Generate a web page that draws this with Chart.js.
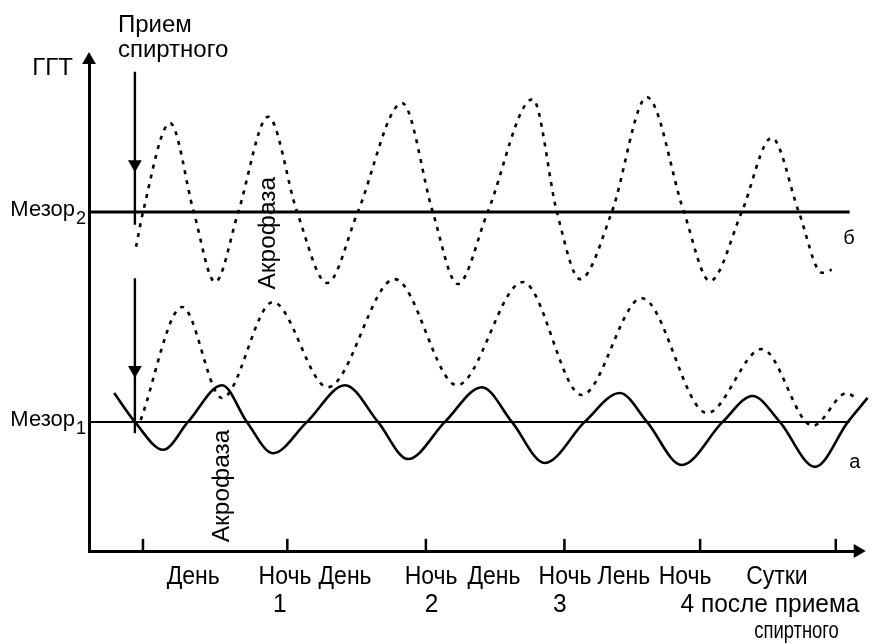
<!DOCTYPE html>
<html>
<head>
<meta charset="utf-8">
<script src="https://cdn.jsdelivr.net/npm/chart.js@4.4.1/dist/chart.umd.min.js"></script>
<style>
  html, body { margin: 0; padding: 0; background: #fff; }
</style>
</head>
<body>
<canvas id="chart" width="871" height="644"></canvas>
<script>
// время в часах (0 = первая метка на оси), уровень ГГТ в усл. ед.
const curveA_t = [-5.0, -1.4, 3.5, 7.8, 13.7, 18.0, 22.5, 28.4, 35.0, 40.7, 45.9, 52.3, 58.7, 63.9, 69.6, 76.5, 82.6, 87.3, 93.3, 100.4, 105.6, 110.3, 116.4, 122.1, 125.5];
const curveA_v = [32.3, 26.4, 20.7, 26.4, 33.9, 26.4, 20.0, 26.4, 33.9, 26.4, 18.8, 26.4, 33.5, 26.4, 18.0, 26.4, 32.3, 26.4, 17.6, 26.4, 31.7, 26.4, 17.2, 26.4, 31.3];

const curveB_t = [-1.2, 0, 4.7, 8.8, 12.5, 16.5, 21.7, 26.7, 31.9, 37.2, 44.9, 50.2, 54.5, 59.7, 67.5, 71.7, 75.7, 81.2, 87.3, 93.7, 98.2, 103.7, 108.9, 113.6, 117.6, 119.3];
const curveB_v = [62.2, 69.3, 87.5, 69.3, 55.0, 69.3, 88.8, 69.3, 54.8, 69.3, 91.6, 69.3, 54.6, 69.3, 92.4, 69.3, 55.6, 69.3, 92.8, 69.3, 55.2, 69.3, 84.5, 69.3, 56.9, 57.5];

// средняя пунктирная кривая
const curveC_t = [-0.4, 6.8, 13.7, 22.5, 32.0, 43.6, 54.4, 65.8, 76.0, 86.4, 97.7, 107.2, 116.0, 121.9, 123.8];
const curveC_v = [26.8, 49.9, 31.3, 50.9, 33.5, 55.6, 33.9, 55.0, 31.9, 51.7, 28.2, 41.3, 25.6, 32.3, 30.9];

const mesor1 = 26.4;
const mesor2 = 69.3;
const mesorEnd = 122.4;

const intakeHour = -1.4;
const arrow1 = [98.0, 79.1, 66.7];  // верх, наконечник, низ
const arrow2 = [55.8, 37.0, 24.1];

const xTicks = [0, 25, 49, 73, 96.5, 120];
const dayLabels = ['День', 'Ночь', 'День', 'Ночь', 'День', 'Ночь', 'Лень', 'Ночь', 'Сутки'];
const dayLabelPos = [8.7, 24.6, 35.0, 49.9, 60.8, 73.1, 83.3, 93.9, 109.8];
const dayNumbers = ['1', '2', '3', '4 после приема'];
const dayNumberPos = [23.7, 50.0, 72.2, 108.6];

const X_MIN = -9.35, X_MAX = 123.5;
const Y_MIN = 0, Y_MAX = 100;

const pts = (t, v) => t.map((x, i) => ({ x: x, y: v[i] }));
const FONT = '"Liberation Sans", Arial, sans-serif';

const textPlugin = {
  id: 'texts',
  afterDatasetsDraw(chart) {
    const { ctx, scales: { x, y }, chartArea } = chart;
    ctx.save();
    ctx.fillStyle = '#000';
    ctx.textBaseline = 'middle';

    // подпись оси Y
    ctx.font = '24px ' + FONT;
    ctx.textAlign = 'right';
    ctx.fillText('ГГТ', chartArea.left - 16, 68);

    // мезоры
    const mesorLabel = (val, sub) => {
      const py = y.getPixelForValue(val);
      ctx.font = '22px ' + FONT;
      ctx.textAlign = 'right';
      ctx.fillText('Мезор', chartArea.left - 14, py - 2);
      ctx.font = '18px ' + FONT;
      ctx.textAlign = 'left';
      ctx.fillText(sub, chartArea.left - 13, py + 7);
    };
    mesorLabel(mesor2, '2');
    mesorLabel(mesor1, '1');

    // прием спиртного
    const ax = x.getPixelForValue(intakeHour);
    const ay = y.getPixelForValue(arrow1[0]);
    ctx.font = '24px ' + FONT;
    ctx.textAlign = 'left';
    ctx.textBaseline = 'alphabetic';
    ctx.fillText('Прием', ax - 17, ay - 40);
    ctx.fillText('спиртного', ax - 17, ay - 15);

    // акрофазы (повернутый текст)
    const vertical = (txt, hx, vy, size) => {
      ctx.save();
      ctx.translate(x.getPixelForValue(hx), y.getPixelForValue(vy));
      ctx.rotate(-Math.PI / 2);
      ctx.font = size + 'px ' + FONT;
      ctx.textAlign = 'center';
      ctx.textBaseline = 'middle';
      ctx.fillText(txt, 0, 0);
      ctx.restore();
    };
    vertical('Акрофаза', 21.7, 65.0, 24.5);
    vertical('Акрофаза', 13.8, 13.3, 24.5);

    ctx.font = '20px ' + FONT;
    ctx.textAlign = 'center';
    ctx.textBaseline = 'middle';
    ctx.fillText('б', x.getPixelForValue(122.3), y.getPixelForValue(64.0));
    ctx.fillText('а', x.getPixelForValue(123.3), y.getPixelForValue(18.0));

    // подписи под осью X (узкое начертание)
    const narrow = (txt, px, py, size, sx) => {
      ctx.save();
      ctx.translate(px, py);
      ctx.scale(sx, 1);
      ctx.font = size + 'px ' + FONT;
      ctx.fillText(txt, 0, 0);
      ctx.restore();
    };
    const base = chartArea.bottom;
    dayLabels.forEach((lab, i) => narrow(lab, x.getPixelForValue(dayLabelPos[i]), base + 26, 25, 0.92));
    dayNumbers.forEach((lab, i) => narrow(lab, x.getPixelForValue(dayNumberPos[i]), base + 54, 25, 0.98));
    narrow('спиртного', x.getPixelForValue(113.2), base + 81, 23, 0.8);

    ctx.restore();
  }
};

const ctx = document.getElementById('chart').getContext('2d');
new Chart(ctx, {
  type: 'line',
  data: {
    datasets: [
      {
        label: 'а',
        data: pts(curveA_t, curveA_v),
        borderColor: '#000',
        borderWidth: 2.6,
        pointRadius: 0,
        cubicInterpolationMode: 'monotone',
        clip: false
      },
      {
        label: 'б',
        data: pts(curveB_t, curveB_v),
        borderColor: '#000',
        borderWidth: 2.6,
        borderDash: [4, 6],
        pointRadius: 0,
        cubicInterpolationMode: 'monotone',
        clip: false
      },
      {
        label: 'в',
        data: pts(curveC_t, curveC_v),
        borderColor: '#000',
        borderWidth: 2.6,
        borderDash: [4, 6],
        pointRadius: 0,
        cubicInterpolationMode: 'monotone',
        clip: false
      },
      {
        label: 'Мезор2',
        data: [{ x: X_MIN, y: mesor2 }, { x: mesorEnd, y: mesor2 }],
        borderColor: '#000',
        borderWidth: 3,
        pointRadius: 0,
        clip: false
      },
      {
        label: 'Мезор1',
        data: [{ x: X_MIN, y: mesor1 }, { x: mesorEnd, y: mesor1 }],
        borderColor: '#000',
        borderWidth: 2,
        pointRadius: 0,
        clip: false
      },
      {
        label: 'прием1',
        data: arrow1.map(v => ({ x: intakeHour, y: v })),
        borderColor: '#000',
        borderWidth: 2.4,
        pointStyle: 'triangle',
        rotation: 180,
        pointRadius: [0, 8, 0],
        pointBackgroundColor: '#000',
        pointBorderWidth: 0,
        clip: false
      },
      {
        label: 'прием2',
        data: arrow2.map(v => ({ x: intakeHour, y: v })),
        borderColor: '#000',
        borderWidth: 2.4,
        pointStyle: 'triangle',
        rotation: 180,
        pointRadius: [0, 8, 0],
        pointBackgroundColor: '#000',
        pointBorderWidth: 0,
        clip: false
      },
      {
        label: 'метки',
        data: xTicks.map(t => ({ x: t, y: 1.25 })),
        showLine: false,
        pointStyle: 'line',
        rotation: 90,
        pointRadius: 6,
        pointBorderColor: '#000',
        pointBorderWidth: 2.5,
        clip: false
      },
      {
        label: 'стрелкаY',
        data: [{ x: X_MIN, y: 100.4 }],
        showLine: false,
        pointStyle: 'triangle',
        rotation: 0,
        pointRadius: 8,
        pointBackgroundColor: '#000',
        pointBorderWidth: 0,
        clip: false
      },
      {
        label: 'стрелкаX',
        data: [{ x: 123.8, y: Y_MIN }],
        showLine: false,
        pointStyle: 'triangle',
        rotation: 90,
        pointRadius: 8,
        pointBackgroundColor: '#000',
        pointBorderWidth: 0,
        clip: false
      }
    ]
  },
  options: {
    responsive: false,
    animation: false,
    devicePixelRatio: 1,
    layout: { padding: { left: 89, right: 15, top: 62, bottom: 93 } },
    plugins: { legend: { display: false }, tooltip: { enabled: false } },
    scales: {
      x: {
        type: 'linear',
        min: X_MIN,
        max: X_MAX,
        ticks: { display: false },
        grid: { display: true, drawOnChartArea: false, drawTicks: false },
        border: { display: true, color: '#000', width: 3 }
      },
      y: {
        min: Y_MIN,
        max: Y_MAX,
        ticks: { display: false },
        grid: { display: true, drawOnChartArea: false, drawTicks: false },
        border: { display: true, color: '#000', width: 3 }
      }
    }
  },
  plugins: [textPlugin]
});
</script>
</body>
</html>
